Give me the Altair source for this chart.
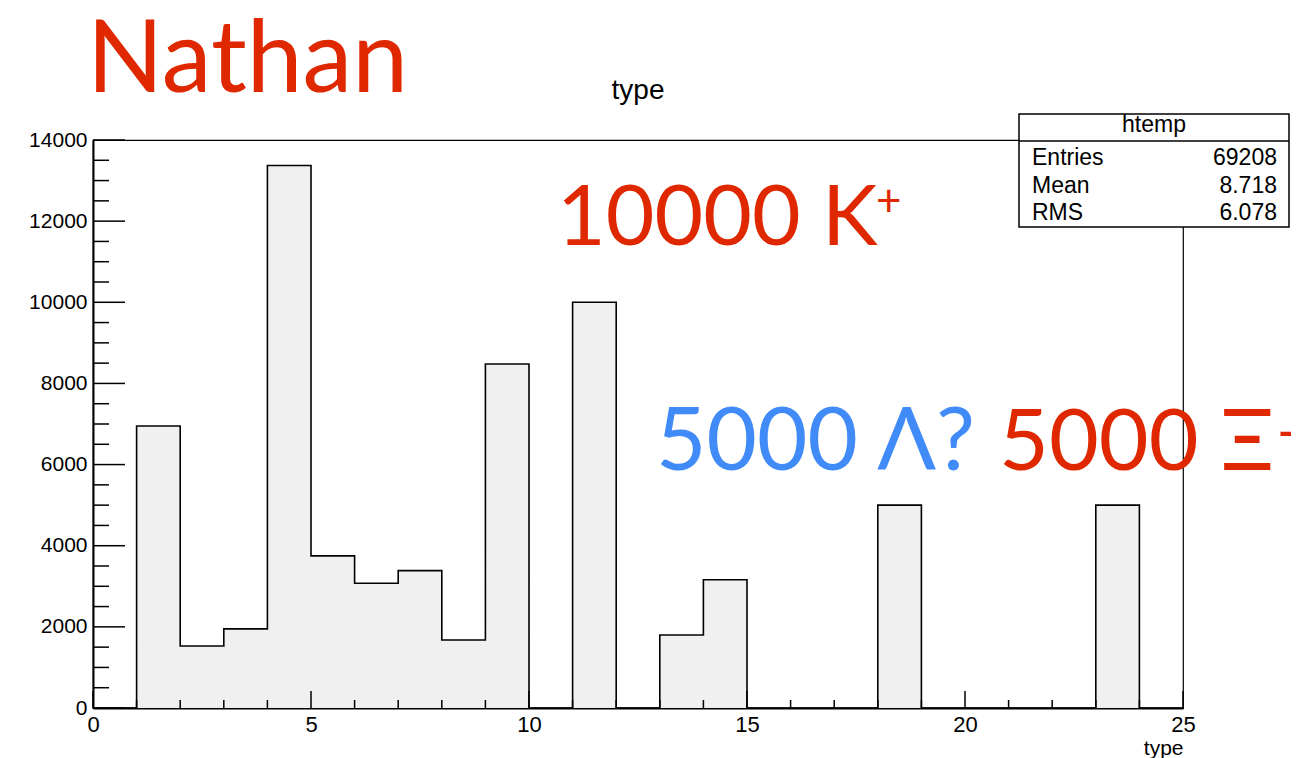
import altair as alt
import pandas as pd

# ---- data (bin width 1, 0..25) ----
bin_lo = list(range(25))
counts = [0, 6950, 1530, 1950, 13370, 3750, 3075, 3385, 1675, 8480,
          0, 10000, 0, 1800, 3160, 0, 0, 0, 5000, 0,
          0, 0, 0, 5000, 0]
y_major = [0, 2000, 4000, 6000, 8000, 10000, 12000, 14000]
y_minor = [v for v in range(0, 14001, 500) if v % 2000 != 0]
x_major = [0, 5, 10, 15, 20, 25]
x_minor = [v for v in range(26) if v % 5 != 0]
stats_names = ["Entries", "Mean", "RMS"]
stats_values = ["69208", "8.718", "6.078"]

W, H = 1090, 568
RED = "#e02800"
BLUE = "#418bf9"
HELV = "Liberation Sans"
GILL = "Lato"

edges = pd.DataFrame({"e": list(range(26)), "n": counts + [0]})

xs = alt.Scale(domain=[0, 25], nice=False, zero=False)
ys = alt.Scale(domain=[0, 14000], nice=False)

fill = alt.Chart(edges).mark_area(
    interpolate="step-after", fill="#f0f0f0", opacity=1
).encode(
    x=alt.X("e:Q", scale=xs, axis=alt.Axis(
        title="type", titleAnchor="end", titleFont=HELV, titleFontSize=21,
        titleFontWeight="normal", titleColor="black", titlePadding=2,
        values=x_major, ticks=False, grid=False, labelFlush=False, format="d",
        labelFont=HELV, labelFontSize=22, labelColor="black", labelPadding=6,
        domainColor="black", domainWidth=2)),
    y=alt.Y("n:Q", scale=ys, axis=alt.Axis(
        title=None, values=y_major, ticks=False, grid=False, labelFlush=False,
        format="d",
        labelFont=HELV, labelFontSize=21, labelColor="black", labelPadding=6,
        domainColor="black", domainWidth=2)),
)

outline = alt.Chart(edges).mark_line(
    interpolate="step-after", color="black", strokeWidth=1.6
).encode(x=alt.X("e:Q", scale=xs), y=alt.Y("n:Q", scale=ys))

ymaj = alt.Chart(pd.DataFrame({"v": y_major})).mark_rule(color="black", strokeWidth=1.5).encode(
    y=alt.Y("v:Q", scale=ys), x=alt.value(0), x2=alt.value(32))
ymin = alt.Chart(pd.DataFrame({"v": y_minor})).mark_rule(color="black", strokeWidth=1.5).encode(
    y=alt.Y("v:Q", scale=ys), x=alt.value(0), x2=alt.value(16))
xmaj = alt.Chart(pd.DataFrame({"v": x_major})).mark_rule(color="black", strokeWidth=1.5).encode(
    x=alt.X("v:Q", scale=xs), y=alt.value(H), y2=alt.value(H - 17))
xmin = alt.Chart(pd.DataFrame({"v": x_minor})).mark_rule(color="black", strokeWidth=1.5).encode(
    x=alt.X("v:Q", scale=xs), y=alt.value(H), y2=alt.value(H - 8))


def label(text, x, y, size, color, font, align="left", baseline="alphabetic"):
    return alt.Chart(pd.DataFrame({"t": [text]})).mark_text(
        align=align, baseline=baseline, fontSize=size, color=color, font=font
    ).encode(text="t:N", x=alt.value(x), y=alt.value(y))


# stats box (top right)
box = alt.Chart(pd.DataFrame({"t": ["htemp"]})).mark_rect(
    fill="white", stroke="black", strokeWidth=1.5
).encode(x=alt.value(926), x2=alt.value(1196), y=alt.value(-26), y2=alt.value(87))
box_line = alt.Chart(pd.DataFrame({"t": ["htemp"]})).mark_rule(
    color="black", strokeWidth=1.5
).encode(x=alt.value(926), x2=alt.value(1196), y=alt.value(1))

layers = [fill, outline, ymaj, ymin, xmaj, xmin, box, box_line,
          label("htemp", 1061, -8, 23, "black", HELV, align="center")]
for i, (nm, val) in enumerate(zip(stats_names, stats_values)):
    yy = 25 + i * 27.5
    layers.append(label(nm, 939, yy, 23, "black", HELV))
    layers.append(label(val, 1184, yy, 23, "black", HELV, align="right"))

layers += [
    label("type", 545, -41, 28, "black", HELV, align="center"),
    label("Nathan", -6, -48, 100, RED, GILL),
    label("10000 K", 464, 105, 84, RED, GILL),
    label("+", 783, 76, 44, RED, GILL),
    label("5000 \u039b?", 563, 330, 87, BLUE, GILL),
    label("5000 \u039e", 906, 330, 86, RED, GILL),
    label("-", 1184, 311, 56, RED, GILL),
]

chart = alt.layer(*layers).properties(
    width=W, height=H,
    autosize=alt.AutoSizeParams(type="none"),
    padding={"left": 85, "top": 132, "right": 108, "bottom": 50},
).configure_view(stroke="black", strokeWidth=1.2)

chart.save("out.html", embed_options={"renderer": "svg", "actions": False})
